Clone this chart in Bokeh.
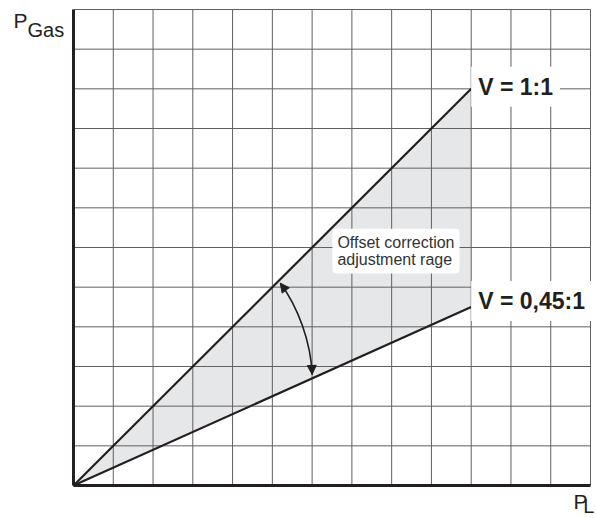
from bokeh.plotting import figure
from bokeh.models import Range1d, Label, Arrow, NormalHead
from bokeh.embed import file_html
from bokeh.resources import INLINE

# ---- data ----
ratios = [1.0, 0.45]
ratio_labels = ["V = 1:1", "V = 0,45:1"]
x_end = 10
x_ticks = list(range(0, 14))
y_ticks = list(range(0, 13))
arrow_start = (5.2, 5.1)
arrow_end = (6.0, 2.8)
arrow_ctrl1 = (5.65, 4.5)
arrow_ctrl2 = (5.97, 3.6)
region_text = "Offset correction\nadjustment rage"

INK = "#231f20"
GRID = "#606062"
FILL = "#e6e7e8"
FONT = "Liberation Sans"

# layout (pixels) of the grid area inside the 596x518 canvas
W, H = 596, 518
left_px, right_px, top_px, bottom_px = 73, 590, 9, 485
x_max, y_max = x_ticks[-1], y_ticks[-1]
ux = (right_px - left_px) / x_max
uy = (bottom_px - top_px) / y_max

p = figure(width=W, height=H, output_backend="svg", toolbar_location=None,
           x_range=Range1d(-left_px / ux, (W - left_px) / ux),
           y_range=Range1d(-(H - bottom_px) / uy, y_max + top_px / uy),
           x_axis_type=None, y_axis_type=None)
p.min_border = 0
p.min_border_left = 0
p.min_border_right = 0
p.min_border_top = 0
p.min_border_bottom = 0
p.outline_line_color = None
p.xgrid.visible = False
p.ygrid.visible = False
p.background_fill_color = "white"
p.border_fill_color = "white"

# shaded region between the two ratio lines
p.patch([0, x_end, x_end], [0, ratios[0] * x_end, ratios[1] * x_end],
        fill_color=FILL, line_color=None)

# grid
p.segment(x0=x_ticks, y0=[0] * len(x_ticks), x1=x_ticks, y1=[y_max] * len(x_ticks),
          line_color=GRID, line_width=1)
p.segment(x0=[0] * len(y_ticks), y0=y_ticks, x1=[x_max] * len(y_ticks), y1=y_ticks,
          line_color=GRID, line_width=1)

# ratio lines
for r in ratios:
    p.line([0, x_end], [0, r * x_end], line_color=INK, line_width=2.2)

# axes lines
p.segment(x0=[0, 0], y0=[0, 0], x1=[0, x_max], y1=[y_max, 0],
          line_color=INK, line_width=3)

# curved double arrow
p.bezier(x0=[arrow_start[0]], y0=[arrow_start[1]], x1=[arrow_end[0]], y1=[arrow_end[1]],
         cx0=[arrow_ctrl1[0]], cy0=[arrow_ctrl1[1]], cx1=[arrow_ctrl2[0]], cy1=[arrow_ctrl2[1]],
         line_color=INK, line_width=1.6)
for tip, ctrl in ((arrow_start, arrow_ctrl1), (arrow_end, arrow_ctrl2)):
    sx = tip[0] + 0.08 * (ctrl[0] - tip[0])
    sy = tip[1] + 0.08 * (ctrl[1] - tip[1])
    p.add_layout(Arrow(end=NormalHead(size=9, fill_color=INK, line_color=INK, line_width=1),
                       x_start=sx, y_start=sy, x_end=tip[0], y_end=tip[1],
                       line_color=INK, line_width=1.6))

# ratio labels
for r, t, dy in zip(ratios, ratio_labels, [0.05, 0.15]):
    p.add_layout(Label(x=x_end + 0.0, y=r * x_end + dy, text=t,
                       text_font=FONT, text_font_style="bold", text_font_size="23px",
                       text_color=INK, text_align="left", text_baseline="middle",
                       background_fill_color="white", padding=7))

p.add_layout(Label(x=6.51, y=5.91, text=region_text, text_font=FONT,
                   text_font_size="16px", text_color="#333333", text_line_height=1.05,
                   text_align="left", text_baseline="middle",
                   background_fill_color="white", padding=5, border_radius=4))

# axis titles
p.add_layout(Label(x=-1.51, y=11.72, text="P", text_font=FONT, text_font_size="21px",
                   text_color=INK, text_align="left", text_baseline="alphabetic"))
p.add_layout(Label(x=-1.157, y=11.49, text="Gas", text_font=FONT, text_font_size="20px",
                   text_color=INK, text_align="left", text_baseline="alphabetic"))
p.add_layout(Label(x=12.57, y=-0.404, text="P", text_font=FONT, text_font_size="21px",
                   text_color=INK, text_align="left", text_baseline="alphabetic"))
p.add_layout(Label(x=12.82, y=-0.512, text="L", text_font=FONT, text_font_size="20px",
                   text_color=INK, text_align="left", text_baseline="alphabetic"))

open("out.html", "w").write(file_html(p, INLINE))
